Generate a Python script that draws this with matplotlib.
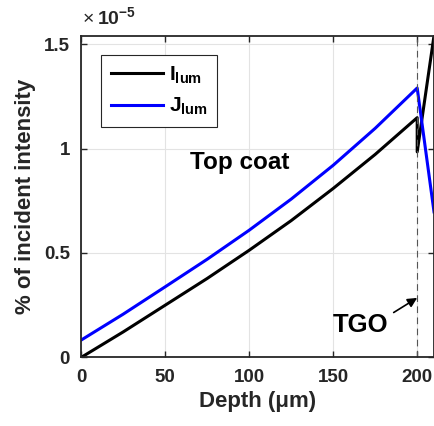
import numpy as np
import matplotlib.pyplot as plt

plt.rcParams['font.family'] = ['Liberation Sans', 'DejaVu Sans']
plt.rcParams['font.weight'] = 'bold'
plt.rcParams['mathtext.fontset'] = 'custom'
plt.rcParams['mathtext.rm'] = 'Liberation Sans:bold'
plt.rcParams['mathtext.it'] = 'Liberation Sans:bold'
plt.rcParams['mathtext.bf'] = 'Liberation Sans:bold'

# depth in um, intensity in units of 1e-5
depth = [0, 25, 50, 75, 100, 125, 150, 175, 200, 200, 210]
I_lum = [0.0, 0.122, 0.25, 0.378, 0.513, 0.655, 0.809, 0.972, 1.148, 0.984, 1.54]
J_lum = [0.083, 0.207, 0.338, 0.47, 0.609, 0.758, 0.92, 1.097, 1.29, 1.29, 0.697]

xticks = [0, 50, 100, 150, 200]
yticks = [0, 0.5, 1, 1.5]
yticklabels = ['0', '0.5', '1', '1.5']

fig = plt.figure(figsize=(4.34, 4.26), dpi=100)
ax = fig.add_axes([0.187, 0.161, 0.813, 0.755])

ax.plot(depth, I_lum, color='black', lw=2.2, label='I$_{lum}$')
ax.plot(depth, J_lum, color='#0000ff', lw=2.2, label='J$_{lum}$')
ax.axvline(200, color='#555555', lw=0.8, ls=(0, (6, 4)))

ax.set_xlim(0, 210)
ax.set_ylim(0, 1.54)
ax.set_xticks(xticks)
ax.set_yticks(yticks)
ax.set_yticklabels(yticklabels)
ax.grid(True, color='#e3e3e3', lw=0.8)
ax.set_axisbelow(True)
ax.tick_params(direction='in', length=4, width=1, labelsize=13.5, top=True, right=True,
               colors='#262626', labelcolor='#262626', pad=8)
for s in ax.spines.values():
    s.set_linewidth(1.3)
    s.set_color('#262626')

ax.set_xlabel('Depth (\u03bcm)', fontsize=16, fontweight='bold', color='#262626', labelpad=4)
ax.set_ylabel('% of incident intensity', fontsize=16, fontweight='bold', color='#262626', labelpad=6)
ax.text(0.005, 1.025, '\u00d7', transform=ax.transAxes, fontsize=14, fontweight='normal',
        color='#262626', ha='left', va='bottom')
ax.text(0.045, 1.025, '10$^{-5}$', transform=ax.transAxes, fontsize=14, color='#262626',
        ha='left', va='bottom')

ax.text(65, 0.935, 'Top coat', fontsize=17.5, fontweight='bold', ha='left', va='center')
ax.text(166, 0.155, 'TGO', fontsize=18.5, fontweight='bold', ha='center', va='center')
ax.annotate('', xy=(200, 0.285), xytext=(186, 0.215),
            arrowprops=dict(arrowstyle='-|>', color='black', lw=1.2, mutation_scale=14,
                            shrinkA=0, shrinkB=0))

leg = ax.legend(loc='upper left', bbox_to_anchor=(0.057, 0.94), borderaxespad=0, fontsize=15,
                handlelength=2.5, fancybox=False, edgecolor='#262626', framealpha=1,
                borderpad=0.45, labelspacing=0.5, handletextpad=0.3)
leg.get_frame().set_linewidth(0.8)

fig.savefig('out.png', dpi=100)
